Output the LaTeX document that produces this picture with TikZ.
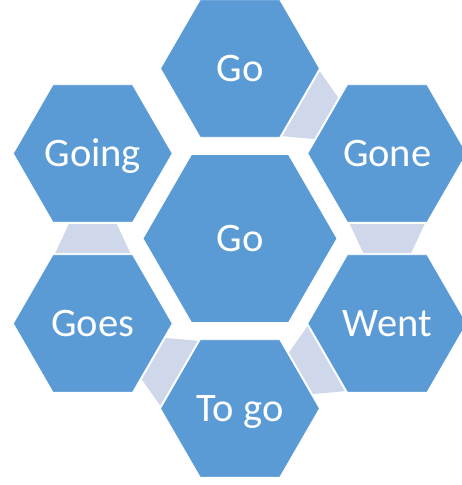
\documentclass[tikz,border=0pt]{standalone}
\usepackage{fontspec}
\setmainfont{Carlito}
\usepackage{tikz}
\usetikzlibrary{shapes.geometric, calc, backgrounds}

\definecolor{hexblue}{RGB}{91,155,213}
\definecolor{linkgray}{RGB}{207,216,235}

\begin{document}
\begin{tikzpicture}[
      hex/.style={regular polygon, regular polygon sides=6, inner sep=0pt,
                  minimum size=159pt, fill=hexblue, draw=white, line width=0.8pt,
                  text=white, font=\fontsize{40.5}{48}\selectfont,
                  text height=26pt, text depth=0pt},
      bighex/.style={hex, minimum size=194pt},
      link/.style={fill=linkgray},
  ]
  \useasboundingbox (-240pt,238.5pt) rectangle (221pt,-246.5pt);

  %% centre
  \node[bighex] (centre) at (0,0) {Go};

  %% outer ring
  \foreach \name/\ang/\word in {top/90/Go, gone/30/Gone, went/-30/Went,
                                togo/-90/To go, goes/-150/Goes, going/150/Going}
    \node[hex] (\name) at (\ang:170pt) {\word};

  %% connectors between neighbours
  \begin{scope}[on background layer]
    \foreach \a/\b in {top/gone, gone/went, went/togo, togo/goes, goes/going} {
      \coordinate (m)  at ($(\a)!0.5!(\b)$);
      \coordinate (wa) at ($(m)!14.5pt!(\a)$);
      \coordinate (wb) at ($(m)!14.5pt!(\b)$);
      \fill[link] ($(wa)!37.5pt!90:(\a)$) -- ($(wb)!24pt!-90:(\b)$)
                  -- ($(wb)!24pt!90:(\b)$) -- ($(wa)!37.5pt!-90:(\a)$) -- cycle;
    }
  \end{scope}

\end{tikzpicture}
\end{document}
